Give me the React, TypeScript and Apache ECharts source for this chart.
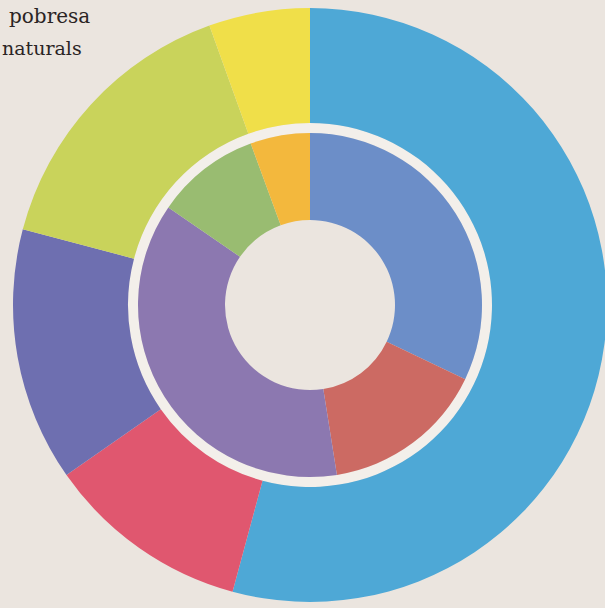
import React, { useEffect, useRef } from "react";
import * as echarts from "echarts";

const outerCategories = ["Blau", "Vermell", "Indi", "Verd llima", "Groc"];
const outerValues = [54.2, 11.1, 13.8, 15.4, 5.5];
const outerColors = ["#4ea8d6", "#e0576f", "#6e6fb0", "#c9d35b", "#f0df49"];

const innerCategories = ["Blau", "Vermell", "Lila", "Verd", "Taronja"];
const innerValues = [32.1, 15.4, 37.1, 9.8, 5.6];
const innerColors = ["#6c8ec8", "#cc6a63", "#8c78b0", "#99bc71", "#f3b83d"];

const textLines = ["pobresa", "naturals"];

export default function App() {
  const ref = useRef<HTMLDivElement>(null);
  useEffect(() => {
    document.body.style.margin = "0";
    const chart = echarts.init(ref.current!, undefined, { renderer: "svg" });
    chart.setOption({
      animation: false,
      backgroundColor: "#ebe5df",
      graphic: [
        {
          type: "text",
          x: 9,
          y: 16,
          style: {
            text: textLines[0],
            font: '20px "DejaVu Serif", serif',
            fill: "#2a2424",
            align: "left",
            verticalAlign: "middle",
          },
        },
        {
          type: "text",
          x: 2,
          y: 48,
          style: {
            text: textLines[1],
            font: '19px "DejaVu Serif", serif',
            fill: "#2a2424",
            align: "left",
            verticalAlign: "middle",
          },
        },
      ],
      series: [
        {
          type: "pie",
          center: [310, 305],
          radius: [172, 182],
          silent: true,
          label: { show: false },
          labelLine: { show: false },
          data: [{ value: 1, name: "band", itemStyle: { color: "#f3efea" } }],
        },
        {
          type: "pie",
          center: [310, 305],
          radius: [182, 297],
          startAngle: 90,
          clockwise: true,
          label: { show: false },
          labelLine: { show: false },
          data: outerCategories.map((n, i) => ({
            name: n,
            value: outerValues[i],
            itemStyle: { color: outerColors[i] },
          })),
        },
        {
          type: "pie",
          center: [310, 305],
          radius: [85, 172],
          startAngle: 90,
          clockwise: true,
          label: { show: false },
          labelLine: { show: false },
          data: innerCategories.map((n, i) => ({
            name: n,
            value: innerValues[i],
            itemStyle: { color: innerColors[i] },
          })),
        },
      ],
    });
    return () => chart.dispose();
  }, []);
  return <div ref={ref} style={{ width: 605, height: 608 }} />;
}
